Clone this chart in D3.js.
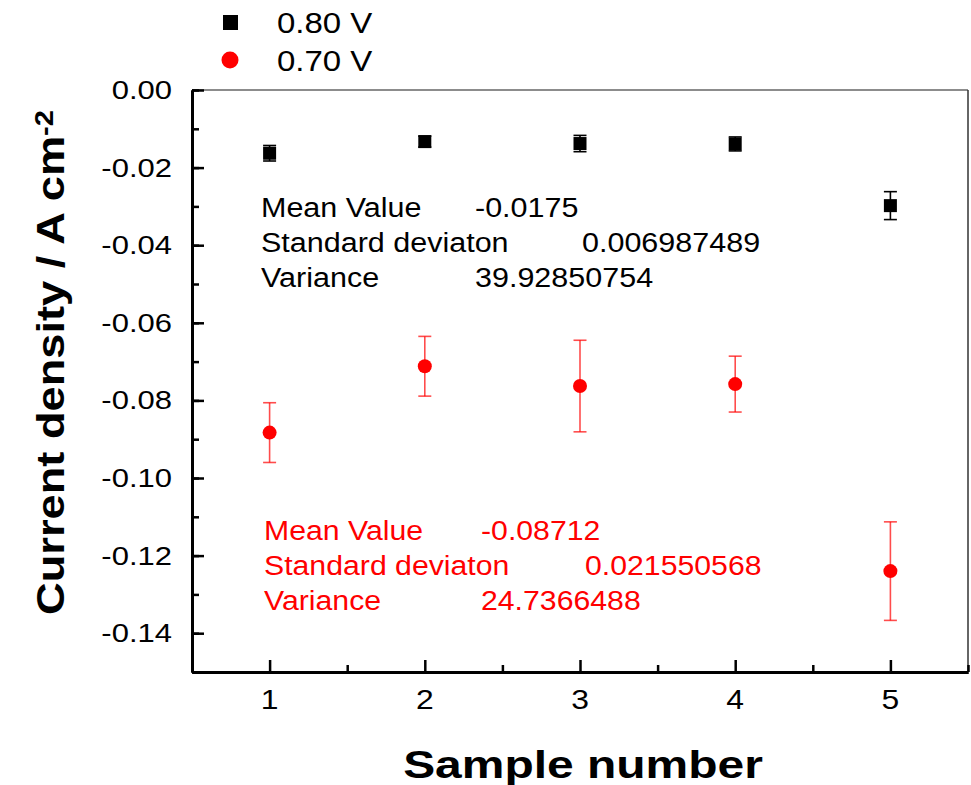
<!DOCTYPE html>
<html>
<head>
<meta charset="utf-8">
<script src="https://cdn.jsdelivr.net/npm/d3@7"></script>
<style>
  body { margin: 0; background: #fff; }
  svg { display: block; font-family: "Liberation Sans", Arial, sans-serif; }
</style>
</head>
<body>
<div id="chart"></div>
<script>
// data
var samples = [1, 2, 3, 4, 5];
var v080 = [-0.0163, -0.0133, -0.0138, -0.0139, -0.0298];
var v080Err = [0.0020, 0.0014, 0.0021, 0.0018, 0.0036];
var v070 = [-0.0883, -0.0712, -0.0763, -0.0758, -0.1240];
var v070Err = [0.0077, 0.0077, 0.0118, 0.0072, 0.0127];
var seriesNames = ["0.80 V", "0.70 V"];
var yTicks = [0, -0.02, -0.04, -0.06, -0.08, -0.10, -0.12, -0.14];
var xTicks = [1, 2, 3, 4, 5];
var stats080 = [["Mean Value", "-0.0175"], ["Standard deviaton", "0.006987489"], ["Variance", "39.92850754"]];
var stats070 = [["Mean Value", "-0.08712"], ["Standard deviaton", "0.021550568"], ["Variance", "24.7366488"]];

var W = 971, H = 785;
var margin = { top: 90, right: 3, bottom: 113, left: 192 };
var width = W - margin.left - margin.right,
    height = H - margin.top - margin.bottom;

var svg = d3.select("#chart").append("svg")
    .attr("width", W).attr("height", H);

var x = d3.scaleLinear().domain([0.5, 5.5]).range([margin.left, margin.left + width]);
var y = d3.scaleLinear().domain([-0.15, 0]).range([margin.top + height, margin.top]);

// text stretched sideways like the original
function wideText(parent, px, py, str, size, sx, anchor) {
  return parent.append("text")
      .attr("transform", "translate(" + px + "," + py + ") scale(" + sx + ",1)")
      .attr("text-anchor", anchor || "start")
      .attr("font-size", size)
      .text(str);
}

// frame: thin top / right
svg.append("line").attr("x1", x(0.5)).attr("x2", x(5.5)).attr("y1", y(0)).attr("y2", y(0))
    .attr("stroke", "#666").attr("stroke-width", 1.5);
svg.append("line").attr("x1", x(5.5)).attr("x2", x(5.5)).attr("y1", y(0)).attr("y2", y(-0.15))
    .attr("stroke", "#333").attr("stroke-width", 1.5);

// axes with inward ticks
var yMajor = d3.axisLeft(y).tickValues(yTicks).tickSizeInner(-12).tickSizeOuter(0).tickFormat("");
var yMinor = d3.axisLeft(y).tickValues(d3.range(0, 16).map(function(i) { return -i * 0.01; }))
    .tickSizeInner(-7).tickSizeOuter(0).tickFormat("");
var xMajor = d3.axisBottom(x).tickValues(xTicks).tickSizeInner(-12).tickSizeOuter(0).tickFormat("");
var xMinor = d3.axisBottom(x).tickValues([0.5, 1.5, 2.5, 3.5, 4.5, 5.5])
    .tickSizeInner(-7).tickSizeOuter(0).tickFormat("");

[yMinor, yMajor].forEach(function(ax) {
  svg.append("g").attr("transform", "translate(" + margin.left + ",0)").call(ax)
    .call(function(g) { g.selectAll("line").attr("stroke", "#000").attr("stroke-width", 2.5); })
    .call(function(g) { g.select(".domain").attr("stroke", "#000").attr("stroke-width", 3); });
});
[xMinor, xMajor].forEach(function(ax) {
  svg.append("g").attr("transform", "translate(0," + (margin.top + height) + ")").call(ax)
    .call(function(g) { g.selectAll("line").attr("stroke", "#000").attr("stroke-width", 2.5); })
    .call(function(g) { g.select(".domain").attr("stroke", "#000").attr("stroke-width", 3); });
});

// tick labels
yTicks.forEach(function(t) {
  wideText(svg, margin.left - 20, y(t) + 9, t.toFixed(2), 25, 1.24, "end");
});
xTicks.forEach(function(t) {
  wideText(svg, x(t), 709, String(t), 27, 1.18, "middle");
});

// axis titles
wideText(svg, x(3) + 3, 778, "Sample number", 39, 1.23, "middle").attr("font-weight", "bold");
var yt = svg.append("text")
    .attr("transform", "translate(64,615) rotate(-90) scale(1.16,1)")
    .attr("font-size", 39).attr("font-weight", "bold");
yt.append("tspan").text("Current density / A cm");
yt.append("tspan").attr("font-size", 25).attr("dy", -11).text("-2");

// error bars
function errorBars(vals, errs, color, opacity) {
  var g = svg.append("g").attr("stroke", color).attr("stroke-opacity", opacity).attr("stroke-width", 1.6);
  samples.forEach(function(s, i) {
    var lo = y(vals[i] - errs[i]), hi = y(vals[i] + errs[i]);
    g.append("line").attr("x1", x(s)).attr("x2", x(s)).attr("y1", lo).attr("y2", hi);
    g.append("line").attr("x1", x(s) - 6.5).attr("x2", x(s) + 6.5).attr("y1", lo).attr("y2", lo);
    g.append("line").attr("x1", x(s) - 6.5).attr("x2", x(s) + 6.5).attr("y1", hi).attr("y2", hi);
  });
}
errorBars(v080, v080Err, "#000", 1);
errorBars(v070, v070Err, "#ff0000", 0.7);

svg.selectAll(".sq").data(samples).enter().append("rect")
    .attr("x", function(d) { return x(d) - 6.5; })
    .attr("y", function(d, i) { return y(v080[i]) - 6.5; })
    .attr("width", 13).attr("height", 13).attr("fill", "#000");
svg.selectAll(".dot").data(samples).enter().append("circle")
    .attr("cx", function(d) { return x(d); })
    .attr("cy", function(d, i) { return y(v070[i]); })
    .attr("r", 7).attr("fill", "#ff0000");

// statistics annotations
stats080.forEach(function(row, i) {
  wideText(svg, 261, 217 + i * 35, row[0], 27, 1.13).attr("fill", "#000");
  wideText(svg, i === 1 ? 582 : 475, 217 + i * 35, row[1], 27, 1.13).attr("fill", "#000");
});
stats070.forEach(function(row, i) {
  wideText(svg, 264, 540 + i * 35, row[0], 27, 1.12).attr("fill", "#ff0000");
  wideText(svg, i === 1 ? 585 : 481, 540 + i * 35, row[1], 27, 1.12).attr("fill", "#ff0000");
});

// legend
svg.append("rect").attr("x", 223).attr("y", 15).attr("width", 15).attr("height", 15).attr("fill", "#000");
svg.append("circle").attr("cx", 230).attr("cy", 60).attr("r", 8.5).attr("fill", "#ff0000");
wideText(svg, 277, 33, seriesNames[0], 30, 1.1);
wideText(svg, 277, 71, seriesNames[1], 30, 1.1);
</script>
</body>
</html>
